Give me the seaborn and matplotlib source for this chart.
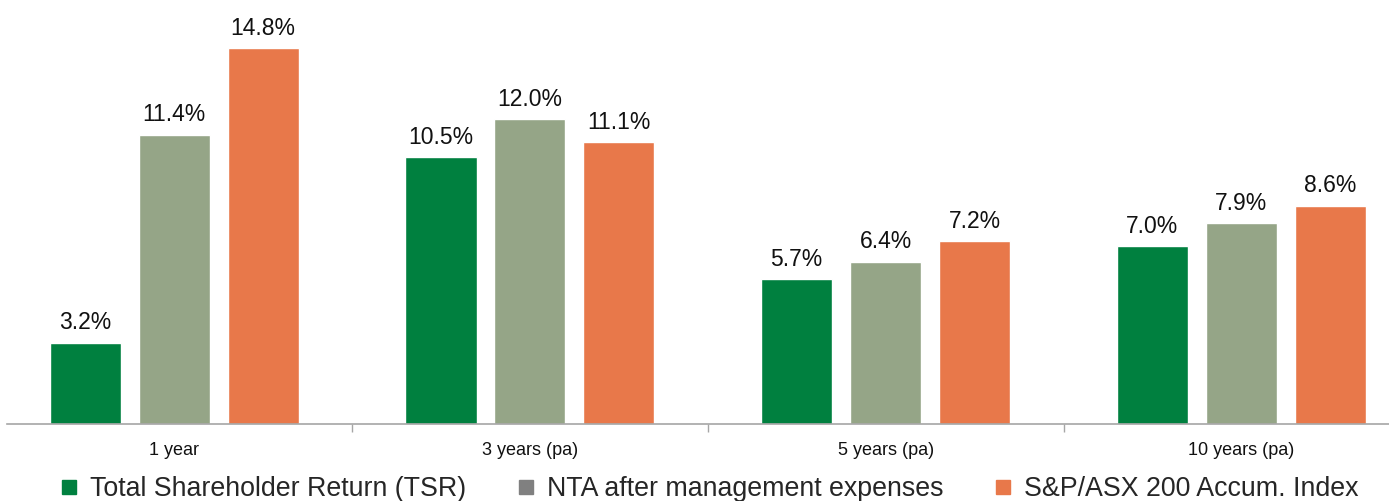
import matplotlib
matplotlib.use("Agg")
import matplotlib.pyplot as plt
import seaborn as sns
import pandas as pd
from matplotlib.lines import Line2D
from matplotlib.ticker import FixedLocator

periods = ["1 year", "3 years (pa)", "5 years (pa)", "10 years (pa)"]
series = ["Total Shareholder Return (TSR)", "NTA after management expenses", "S&P/ASX 200 Accum. Index"]
tsr = [3.2, 10.5, 5.7, 7.0]
nta = [11.4, 12.0, 6.4, 7.9]
asx = [14.8, 11.1, 7.2, 8.6]

bar_colors = ["#00803F", "#95A587", "#E8784A"]
legend_colors = ["#00803F", "#808080", "#E8784A"]

rows = []
for s, vals in zip(series, [tsr, nta, asx]):
    for p, v in zip(periods, vals):
        rows.append({"period": p, "series": s, "value": v})
df = pd.DataFrame(rows)

sns.set_theme(style="white")
plt.rcParams["font.family"] = ["Liberation Sans", "DejaVu Sans"]

fig = plt.figure(figsize=(13.89, 5.01), dpi=100)
ax = fig.add_axes([7 / 1389, 77 / 501, 1 - 7 / 1389, 424 / 501])

sns.barplot(data=df, x="period", y="value", hue="series", order=periods,
            hue_order=series, palette=bar_colors, width=0.75, gap=0.2,
            saturation=1, ax=ax, legend=False)

for c in ax.containers:
    ax.bar_label(c, labels=[f"{v:.1f}%" for v in c.datavalues], padding=6,
                 fontsize=16.5, color="#111111")

ax.set_xlim(-0.47, 3.415)
ax.set_ylim(0, 16.7)
ax.set_xlabel("")
ax.set_ylabel("")
ax.set_yticks([])
for s in ["top", "right", "left"]:
    ax.spines[s].set_visible(False)
ax.spines["bottom"].set_color("#A6A6A6")
ax.spines["bottom"].set_linewidth(1.2)
ax.tick_params(axis="x", which="major", length=0, pad=13)
ax.xaxis.set_minor_locator(FixedLocator([0.5, 1.5, 2.5]))
ax.tick_params(axis="x", which="minor", bottom=True, length=6, width=1, color="#A6A6A6")
for lbl in ax.get_xticklabels():
    lbl.set_fontsize(13)
    lbl.set_color("#111111")

handles = [Line2D([0], [0], marker="s", linestyle="none", markersize=9.4,
                  markerfacecolor=c, markeredgecolor=c) for c in legend_colors]
fig.legend(handles, series, loc="center", bbox_to_anchor=(707 / 1389, 1 - 489 / 501),
           ncol=3, frameon=False, fontsize=19.3, handletextpad=0.27,
           columnspacing=1.75, handlelength=1.0, borderaxespad=0, borderpad=0)

fig.savefig("out.png", dpi=100)
